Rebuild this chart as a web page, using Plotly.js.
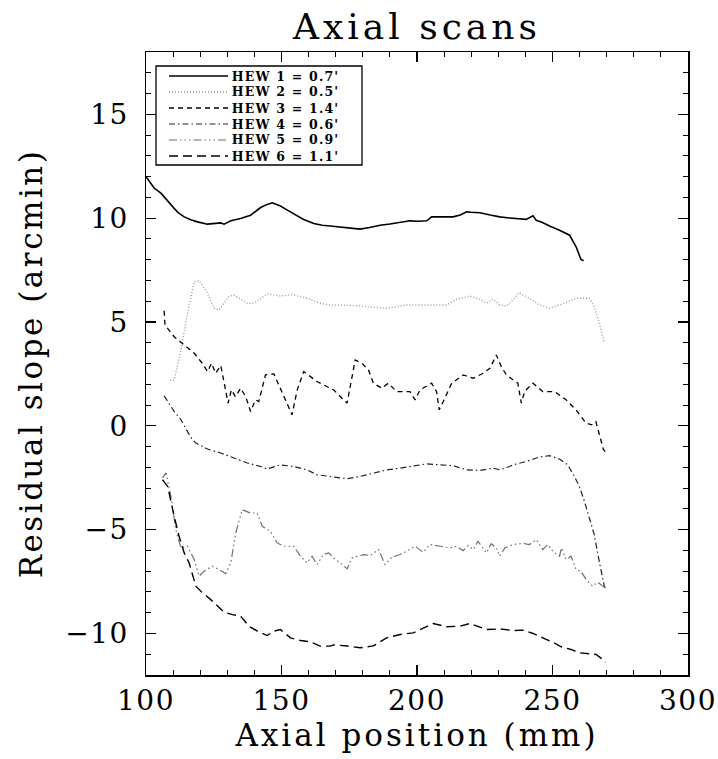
<!DOCTYPE html>
<html>
<head>
<meta charset="utf-8">
<script src="https://cdn.plot.ly/plotly-3.0.1.min.js"></script>
<style>
html,body{margin:0;padding:0;background:#fff;}
#chart .gtitle{letter-spacing:4px;}
#chart .xtitle{letter-spacing:3px;}
#chart .ytitle{letter-spacing:2.5px;}
#chart .xtick text, #chart .ytick text{letter-spacing:1.5px;}
#chart .annotation-text{letter-spacing:1.2px;}
</style>
</head>
<body>
<div id="chart" style="width:718px;height:759px;"></div>
<script>
// ---- Data ----
const seriesNames = ["HEW 1 = 0.7'", "HEW 2 = 0.5'", "HEW 3 = 1.4'", "HEW 4 = 0.6'", "HEW 5 = 0.9'", "HEW 6 = 1.1'"];

const x1 = [100, 101.5, 103, 105.5, 108, 110.4, 112, 114.1, 116.5, 119, 122.7, 125, 127.6, 128.8, 131.3, 134.9, 138.6, 142.3, 144.5, 146.6, 149.6, 152, 154.5, 158, 161.9, 165, 168, 171.7, 175, 179, 182.5, 186.4, 190, 193.8, 197.4, 200.5, 203.6, 205.4, 209, 213.3, 216, 218.3, 220, 223.2, 227, 230.5, 234.2, 237, 240.3, 242.8, 244, 246.5, 248.9, 252.6, 256.3, 258.7, 260.5, 261.5];
const y1 = [12.0, 11.7, 11.45, 11.2, 10.8, 10.47, 10.25, 10.06, 9.92, 9.82, 9.71, 9.74, 9.77, 9.71, 9.87, 9.98, 10.14, 10.51, 10.65, 10.74, 10.58, 10.4, 10.22, 9.95, 9.74, 9.66, 9.62, 9.58, 9.55, 9.47, 9.55, 9.66, 9.72, 9.79, 9.87, 9.85, 9.87, 10.06, 10.05, 10.06, 10.15, 10.3, 10.28, 10.26, 10.15, 10.06, 10.01, 9.98, 9.94, 10.11, 9.9, 9.78, 9.62, 9.42, 9.18, 8.62, 8.01, 7.95];

const x2 = [108.9, 110.4, 112.9, 115.3, 117.8, 119.6, 122.7, 125.1, 126.9, 130.6, 132.4, 135, 137.4, 139.8, 144.7, 149.6, 153.9, 159.4, 164.3, 168, 171.7, 179, 188.8, 196.2, 203.6, 210.9, 214.6, 219.5, 223.2, 225.6, 228.1, 230.5, 233, 235.4, 237.6, 241.5, 245.2, 248.9, 254.4, 258.7, 263.6, 265.4, 267.3, 269.1];
const y2 = [2.18, 2.2, 3.65, 5.42, 6.94, 6.99, 6.38, 5.66, 5.58, 6.22, 6.3, 6.1, 5.9, 5.9, 6.35, 6.25, 6.31, 6.14, 5.9, 5.82, 5.82, 5.77, 5.66, 5.82, 5.82, 5.82, 6.09, 6.25, 6.09, 5.9, 6.09, 5.82, 5.77, 6.06, 6.41, 6.14, 5.82, 5.66, 5.9, 6.14, 6.14, 5.74, 4.94, 3.98];

const x3 = [106.7, 107, 110.4, 114.1, 117.8, 120.8, 122.7, 124.2, 125.7, 127.6, 128.6, 130.3, 131.5, 133, 134.9, 136.8, 138.6, 140.4, 141.6, 144.1, 147.2, 150.8, 153.9, 155.8, 158.2, 163.1, 166, 169.2, 174.2, 175.4, 177.2, 179.7, 182.1, 183.9, 187, 189.4, 192.5, 197.4, 199.3, 201.1, 205.4, 207.2, 208.2, 209.7, 212.8, 217.1, 220.8, 224.4, 226.9, 229.3, 231.1, 233, 235.4, 237.2, 238.5, 239.7, 241.5, 242.8, 246.4, 250.7, 255, 258.7, 262.4, 264.5, 266, 267.3, 268.8, 269.5];
const y3 = [5.54, 4.85, 4.29, 3.89, 3.49, 3.01, 2.61, 3.01, 2.53, 2.9, 2.21, 1.09, 1.73, 1.4, 1.81, 1.4, 0.69, 1.25, 1.17, 2.45, 2.5, 1.41, 0.53, 1.73, 2.61, 2.13, 1.95, 1.73, 1.09, 1.89, 3.17, 3.01, 2.69, 2.05, 1.81, 2.05, 1.65, 1.65, 1.25, 1.73, 2.05, 1.65, 0.77, 1.17, 2.05, 2.45, 2.29, 2.53, 2.77, 3.41, 2.85, 2.45, 2.21, 2.05, 1.09, 1.65, 1.89, 2.05, 1.65, 1.65, 1.25, 0.77, 0.13, 0.05, 0.2, -0.43, -1.15, -1.25];

const x4 = [106.7, 108.5, 110.4, 112.9, 114.7, 116.5, 118.4, 122.7, 127.6, 132.5, 137.4, 142.3, 144.7, 149.6, 154.5, 159.4, 163.1, 168, 169.2, 174.2, 179, 183.9, 188.8, 193.8, 198.6, 203.6, 208.5, 213.3, 218.3, 223.2, 228.1, 230.5, 234.2, 235.4, 240.3, 245.2, 248.9, 252.6, 255.6, 258.1, 259.9, 261.8, 263.6, 265.4, 266.7, 267.9, 269.1, 269.6];
const y4 = [1.44, 1.05, 0.69, 0.29, -0.1, -0.55, -0.83, -1.12, -1.31, -1.55, -1.79, -1.96, -2.08, -1.88, -1.96, -2.12, -2.36, -2.44, -2.47, -2.55, -2.44, -2.28, -2.12, -2.04, -1.92, -1.83, -1.88, -1.92, -2.12, -2.15, -2.04, -2.12, -1.96, -1.88, -1.72, -1.5, -1.44, -1.6, -1.88, -2.44, -2.92, -3.64, -4.44, -5.24, -6.17, -6.92, -7.72, -7.85];

const x5 = [106.1, 107.4, 109.2, 111, 112.9, 115.3, 117.8, 119.6, 121.4, 124.5, 126.9, 129.4, 131.3, 133.1, 135.5, 138.6, 141, 142.9, 145.9, 148.4, 150.8, 154.5, 157, 159.4, 161.3, 163.1, 165.5, 167.4, 169.9, 171.7, 174.2, 176, 180.3, 182.7, 185.8, 188.2, 190.7, 193.8, 196.2, 199.3, 202.3, 204.8, 208.5, 212.2, 214.6, 217, 218.9, 220.8, 222.5, 224.4, 225.6, 227.4, 229.3, 230.5, 232.4, 235.4, 239.1, 241.5, 244, 246.4, 248.3, 250.1, 252.6, 253.3, 255, 256.8, 258.7, 260.5, 262.4, 264.8, 266.7, 268.5, 269.6];
const y5 = [-2.51, -2.27, -3.4, -5.0, -5.88, -5.8, -6.44, -7.24, -7.0, -6.76, -6.92, -7.12, -6.6, -5.16, -4.04, -4.2, -4.2, -4.84, -5.08, -5.64, -5.8, -5.8, -6.28, -6.6, -6.28, -6.68, -6.2, -6.12, -6.44, -6.6, -6.89, -6.36, -6.2, -6.25, -5.96, -6.68, -6.33, -6.2, -6.04, -5.8, -6.09, -5.72, -5.8, -5.88, -5.8, -6.01, -5.77, -5.96, -5.56, -5.88, -6.12, -5.68, -5.88, -6.28, -5.88, -5.72, -5.66, -5.72, -5.48, -5.96, -5.72, -6.04, -6.28, -5.88, -6.44, -6.28, -6.92, -7.0, -7.4, -7.72, -7.53, -7.72, -7.8];

const x6 = [106.1, 108, 110.4, 112.2, 114.1, 115.9, 118.4, 120.8, 123.9, 126.4, 128.8, 131.9, 134.9, 138, 141.1, 144.7, 147.2, 149.6, 153.3, 157, 160.6, 164.3, 168, 169.2, 174.2, 179, 183.9, 188.8, 193.8, 198.6, 202.3, 206, 210.9, 215.8, 219.5, 223.2, 225.6, 230.5, 235.4, 239.1, 242.8, 246.4, 250.1, 253.2, 256.8, 259.9, 263, 266.1, 268.5, 269.5];
const y6 = [-2.6, -2.92, -4.36, -5.32, -6.12, -6.6, -7.72, -8.04, -8.37, -8.69, -8.98, -9.09, -9.17, -9.65, -9.89, -10.1, -9.89, -9.81, -10.21, -10.34, -10.4, -10.61, -10.61, -10.55, -10.6, -10.69, -10.6, -10.21, -10.05, -9.97, -9.73, -9.52, -9.68, -9.65, -9.52, -9.68, -9.81, -9.78, -9.86, -9.84, -10.0, -10.21, -10.42, -10.64, -10.77, -10.93, -10.98, -11.01, -11.25, -11.4];

const xTicks = [100, 150, 200, 250, 300];
const yTicks = [-10, -5, 0, 5, 10, 15];

// ---- Styles ----
const styles = [
  {color: '#000000', dash: 'solid', width: 1.6},
  {color: '#9a9a9a', dash: '1px,2px', width: 1.4},
  {color: '#000000', dash: '5px,4px', width: 1.3},
  {color: '#222222', dash: '6px,3px,1.5px,3px', width: 1.2},
  {color: '#6e6e6e', dash: '8px,3px,1.5px,3px,1.5px,3px,1.5px,3px', width: 1.2},
  {color: '#000000', dash: '9px,5px', width: 1.4}
];

const xs = [x1, x2, x3, x4, x5, x6];
const ys = [y1, y2, y3, y4, y5, y6];

const traces = xs.map((xx, i) => ({
  type: 'scatter', mode: 'lines', x: xx, y: ys[i], name: seriesNames[i],
  line: {color: styles[i].color, dash: styles[i].dash, width: styles[i].width},
  showlegend: false, hoverinfo: 'skip'
}));

// plot area in pixels
const W = 718, H = 759;
const M = {l: 146, r: 30, t: 52, b: 84};
const PW = W - M.l - M.r, PH = H - M.t - M.b;
const px = v => (v - M.l) / PW;
const py = v => (H - M.b - v) / PH;

// manual legend box (IDL style)
const rowY = [76, 92, 108, 124, 140, 156];
const shapes = [{
  type: 'rect', xref: 'paper', yref: 'paper',
  x0: px(156), x1: px(362), y0: py(165), y1: py(66),
  line: {color: '#000', width: 1.3}, fillcolor: 'rgba(255,255,255,0)'
}];
const annotations = [];
seriesNames.forEach((nm, i) => {
  shapes.push({
    type: 'line', xref: 'paper', yref: 'paper',
    x0: px(169), x1: px(228), y0: py(rowY[i]), y1: py(rowY[i]),
    line: {color: styles[i].color, dash: styles[i].dash, width: styles[i].width}
  });
  annotations.push({
    xref: 'paper', yref: 'paper', x: px(238), y: py(rowY[i]),
    xanchor: 'left', yanchor: 'middle', showarrow: false, borderpad: 0,
    text: '<b>' + nm + '</b>',
    font: {family: 'DejaVu Serif, serif', size: 12.5, color: '#000'}
  });
});

const serif = 'DejaVu Serif, serif';
const layout = {
  width: W, height: H,
  margin: M,
  paper_bgcolor: '#fff', plot_bgcolor: '#fff',
  showlegend: false,
  title: {
    text: 'Axial scans', x: 0.5, xref: 'paper', xanchor: 'center',
    y: 1 - 26 / H, yref: 'container', yanchor: 'middle',
    font: {family: serif, size: 36, color: '#000'}
  },
  xaxis: {
    range: [100, 300], tickvals: xTicks, ticktext: xTicks.map(String),
    ticks: 'inside', ticklen: 10, tickwidth: 1.2, tickcolor: '#000',
    showline: true, linecolor: '#000', linewidth: 1.5, mirror: 'ticks',
    showgrid: false, zeroline: false,
    minor: {dtick: 10, ticks: 'inside', ticklen: 5, tickwidth: 1, tickcolor: '#000', showgrid: false},
    tickfont: {family: serif, size: 28, color: '#000'},
    ticklabelstandoff: 0,
    title: {text: 'Axial position (mm)', font: {family: serif, size: 31, color: '#000'}, standoff: 8}
  },
  yaxis: {
    range: [-12, 18], tickvals: yTicks,
    ticks: 'inside', ticklen: 10, tickwidth: 1.2, tickcolor: '#000',
    showline: true, linecolor: '#000', linewidth: 1.5, mirror: 'ticks',
    showgrid: false, zeroline: false,
    minor: {dtick: 1, ticks: 'inside', ticklen: 5, tickwidth: 1, tickcolor: '#000', showgrid: false},
    tickfont: {family: serif, size: 28, color: '#000'},
    ticklabelstandoff: 10,
    title: {text: 'Residual slope (arcmin)', font: {family: serif, size: 31, color: '#000'}, standoff: 18}
  },
  shapes: shapes,
  annotations: annotations
};

Plotly.newPlot('chart', traces, layout, {displayModeBar: false, staticPlot: true});
</script>
</body>
</html>
